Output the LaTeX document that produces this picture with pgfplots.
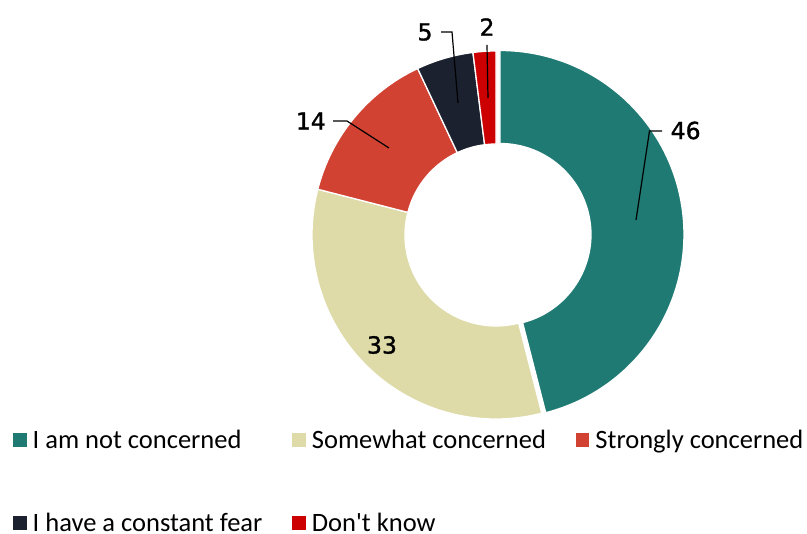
\documentclass[border=0pt]{standalone}
\usepackage{pgfplots}
\pgfplotsset{compat=1.18}
\usepackage{pgfplotstable}
\usepackage{fontspec}
\setmainfont{Carlito}
\newfontfamily\numfont[FakeBold=1.3]{DejaVu Sans}

\definecolor{slice0}{RGB}{31,122,115}
\definecolor{slice1}{RGB}{222,219,168}
\definecolor{slice2}{RGB}{209,66,51}
\definecolor{slice3}{RGB}{27,33,46}
\definecolor{slice4}{RGB}{204,0,0}

% share (%) and explode offset (px) for each slice, clockwise from 12 o'clock
\pgfplotstableread{
value explode
46 4
33 0
14 0
5 0
2 0
}\donut

\begin{document}
\begin{tikzpicture}
\begin{axis}[
  width=807pt, height=534pt, scale only axis,
  xmin=0, xmax=807, ymin=0, ymax=534,
  hide axis, clip=false,
  legend columns=3,
  legend cell align=left,
  legend image code/.code={\fill[#1] (0pt,-7pt) rectangle (13.5pt,7pt);},
  legend style={at={(axis cs:13,534-428)}, anchor=north west, draw=none, fill=none,
    inner sep=0pt, font=\fontsize{26.5}{30}\selectfont,
    /tikz/every even column/.append style={column sep=28pt},
    /tikz/every odd column/.append style={column sep=4pt},
    row sep=59pt},
]
\path (axis cs:0,0) rectangle (axis cs:807,534);
\def\cum{0}
\pgfplotsforeachungrouped \i in {0,...,4}{%
  \pgfplotstablegetelem{\i}{value}\of\donut \let\v\pgfplotsretval
  \pgfplotstablegetelem{\i}{explode}\of\donut \let\ex\pgfplotsretval
  \pgfmathsetmacro\aone{90-3.6*\cum}%
  \pgfmathsetmacro\atwo{90-3.6*(\cum+\v)}%
  \pgfmathsetmacro\amid{(\aone+\atwo)/2}%
  \pgfmathsetmacro\ccx{496+\ex*cos(\amid)}%
  \pgfmathsetmacro\ccy{299+\ex*sin(\amid)}%
  \pgfmathsetmacro\pxo{\ccx+184*cos(\aone)}%
  \pgfmathsetmacro\pyo{\ccy+184*sin(\aone)}%
  \pgfmathsetmacro\pxi{\ccx+91*cos(\atwo)}%
  \pgfmathsetmacro\pyi{\ccy+91*sin(\atwo)}%
  \edef\temp{\noexpand\fill[slice\i, draw=white, line width=1.3pt]
    (axis cs:\pxo,\pyo) arc[start angle=\aone, end angle=\atwo, radius=184pt]
    -- (axis cs:\pxi,\pyi) arc[start angle=\atwo, end angle=\aone, radius=91pt] -- cycle;}%
  \temp
  \pgfmathsetmacro\cum{\cum+\v}%
}

% value labels with leader lines
\draw[black, line width=1.2pt] (axis cs:636,534-220) -- (axis cs:649.5,534-131) -- (axis cs:662,534-131);
\node[anchor=west, inner sep=0pt, font=\numfont\fontsize{23.5}{26}\selectfont] at (axis cs:670.5,534-130.5) {46};
\node[inner sep=0pt, font=\numfont\fontsize{23.5}{26}\selectfont] at (axis cs:382,534-345) {33};
\draw[black, line width=1.2pt] (axis cs:389,534-148) -- (axis cs:347,534-121) -- (axis cs:333,534-121);
\node[anchor=east, inner sep=0pt, font=\numfont\fontsize{23.5}{26}\selectfont] at (axis cs:326,534-121) {14};
\draw[black, line width=1.2pt] (axis cs:458,534-103) -- (axis cs:452,534-32) -- (axis cs:441,534-32);
\node[inner sep=0pt, font=\numfont\fontsize{23.5}{26}\selectfont] at (axis cs:425,534-32) {5};
\draw[black, line width=1.2pt] (axis cs:488,534-98) -- (axis cs:487,534-45);
\node[inner sep=0pt, font=\numfont\fontsize{23.5}{26}\selectfont] at (axis cs:487,534-27) {2};

\addlegendimage{fill=slice0, draw=none}
\addlegendentry{I am not concerned}
\addlegendimage{fill=slice1, draw=none}
\addlegendentry{Somewhat concerned}
\addlegendimage{fill=slice2, draw=none}
\addlegendentry{Strongly concerned}
\addlegendimage{fill=slice3, draw=none}
\addlegendentry{I have a constant fear}
\addlegendimage{fill=slice4, draw=none}
\addlegendentry{Don\textquotesingle t know}
\end{axis}
\pgfresetboundingbox
\path (current axis.south west) rectangle (current axis.north east);
\end{tikzpicture}
\end{document}
